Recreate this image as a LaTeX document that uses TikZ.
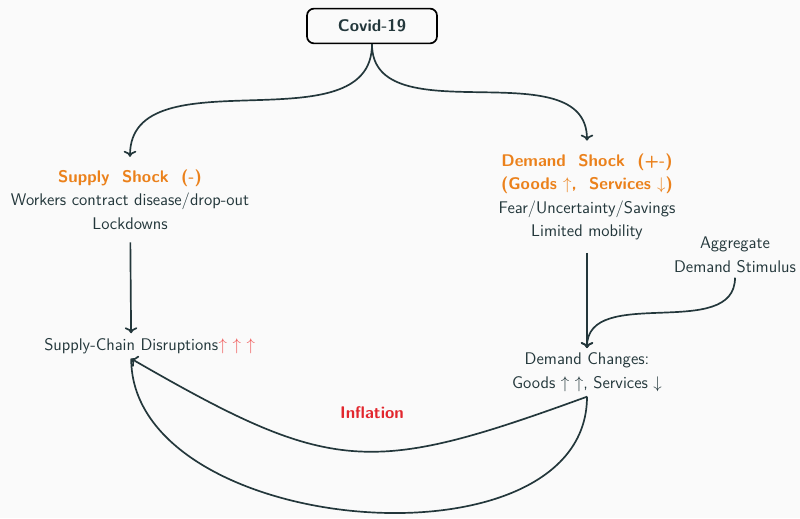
\documentclass[tikz,border=0pt]{standalone}
\usepackage{xcolor}
\usepackage{tikz}
\usetikzlibrary{arrows.meta, positioning, calc}
\definecolor{darkteal}{RGB}{35, 55, 59}
\definecolor{shockorange}{RGB}{235, 129, 27}
\definecolor{alertred}{RGB}{226, 38, 45}
\definecolor{lightred}{RGB}{240, 90, 90}
\definecolor{bggray}{RGB}{250, 250, 250}
\renewcommand{\familydefault}{\sfdefault}

\begin{document}
\begin{tikzpicture}[
    text=darkteal,
    every node/.style={font=\fontsize{12}{16.7}\selectfont, align=center},
    root_node/.style={draw=black, line width=1.2pt, rounded corners=5pt, minimum width=3.25cm, minimum height=0.87cm, font=\fontsize{12}{16.7}\selectfont\bfseries},
    shock_node/.style={inner sep=9pt},
    arrow/.style={->, line width=1.2pt, darkteal}
]
    % Background
    \fill[bggray] (0,0) rectangle (20,12.95);
    \useasboundingbox (0,0) rectangle (20,12.95);

    % Top node
    \node[root_node] (covid) at (9.3, 12.3) {Covid-19};

    % Shock nodes
    \node[shock_node] (supply) at (3.25, 7.96) {\textcolor{shockorange}{\bfseries Supply\ \ Shock\ \ (-)}\\Workers contract disease/drop-out\\Lockdowns};
    \node[shock_node] (demand) at (14.675, 8.03) {\textcolor{shockorange}{\bfseries Demand\ \ Shock\ \ (+-)}\\\textcolor{shockorange}{\bfseries (Goods $\uparrow$,\ \ Services $\downarrow$)}\\Fear/Uncertainty/Savings\\Limited mobility};

    % Outcome nodes
    \node[inner xsep=0pt] (chain) at (3.28, 4.3) {Supply-Chain Disruptions};
    \node[inner sep=0pt, anchor=west, text=lightred] (chainup) at (chain.east) {$\uparrow$ $\uparrow$ $\uparrow$};
    \node (changes) at (14.675, 3.64) {Demand Changes:\\Goods $\uparrow$ $\uparrow$, Services $\downarrow$};
    \node (stimulus) at (18.375, 6.575) {Aggregate\\Demand Stimulus};

    % Arrows
    \draw[arrow] (covid.south) to[out=-90, in=90] (supply.north);
    \draw[arrow] (covid.south) to[out=-90, in=90] (demand.north);
    \draw[arrow] (supply) -- (chain);
    \draw[arrow] (demand) -- (changes);
    \draw[arrow] (stimulus.south) to[out=-90, in=90] (changes.north);

    % Inflation loop
    \draw[line width=1.2pt, darkteal] (changes.south) to[out=-90, in=-90, looseness=1.0] (chain.south);
    \draw[arrow] (changes.south) to[out=200, in=-30, looseness=1.3] (chain.south);
    \node[text=alertred, font=\fontsize{12}{16.7}\selectfont\bfseries] (inflation) at (9.3, 2.625) {Inflation};
\end{tikzpicture}
\end{document}
